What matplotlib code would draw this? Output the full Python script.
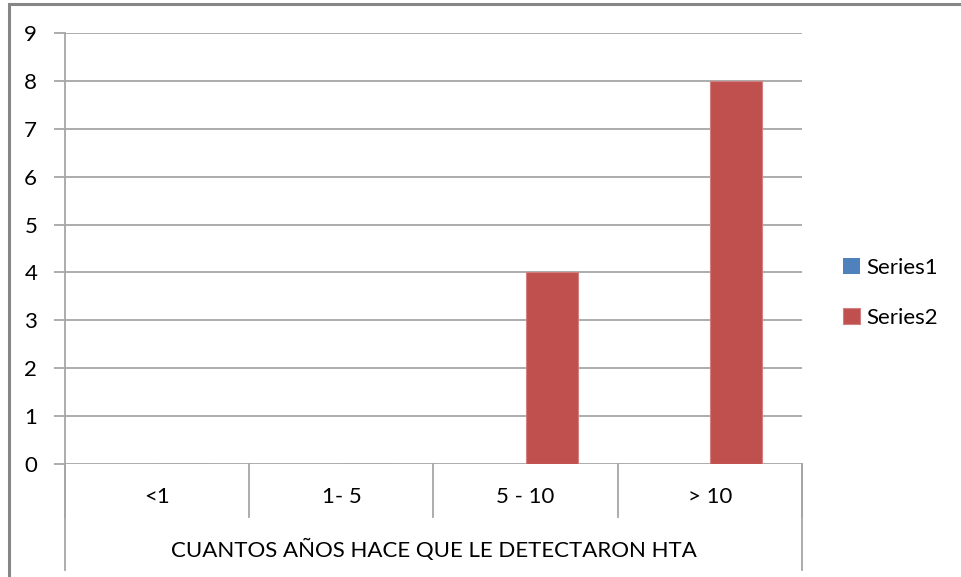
import matplotlib
matplotlib.use("Agg")
import matplotlib.pyplot as plt
from matplotlib.patches import Rectangle
import numpy as np

categories = ["<1", "1- 5", "5 - 10", "> 10"]
series_names = ["Series1", "Series2"]
series1 = [0, 0, 0, 0]
series2 = [0, 0, 4, 8]
y_ticks = [0, 1, 2, 3, 4, 5, 6, 7, 8, 9]
axis_title = "CUANTOS AÑOS HACE QUE LE DETECTARON HTA"

plt.rcParams['font.family'] = ['Lato', 'DejaVu Sans']

W, H = 962, 577
fig = plt.figure(figsize=(W / 100, H / 100), dpi=100)
fig.patch.set_facecolor('white')

# outer chart border (continues beyond the crop on right/bottom)
fig.patches.append(Rectangle((9 / W, -0.1), 1.2, 1 - 4 / H + 0.1, transform=fig.transFigure,
                             fill=False, edgecolor='#868686', linewidth=2.2))

L, R, T, B = 65, 802, 33, 464
ax = fig.add_axes([L / W, 1 - B / H, (R - L) / W, (B - T) / H])

x = np.arange(len(categories))
bw = 0.282
ax.bar(x - bw, series1, width=bw, align='edge', color='#4F81BD', linewidth=0, label=series_names[0], zorder=3)
ax.bar(x, series2, width=bw, align='edge', color='#C0504D', edgecolor='#D08080', linewidth=0.8,
       label=series_names[1], zorder=3)

ax.set_xlim(-0.5, len(categories) - 0.5)
ax.set_ylim(0, 9)
ax.set_yticks(y_ticks)
ax.set_yticklabels([str(v) for v in y_ticks], fontsize=16, color='#000000')
ax.yaxis.grid(True, color='#A6A6A6', linewidth=1.3, zorder=0)
ax.set_axisbelow(True)
ax.tick_params(axis='y', length=8, width=1.3, color='#A6A6A6', pad=12)
ax.set_xticks([])
for s in ['top', 'right', 'bottom']:
    ax.spines[s].set_visible(False)
ax.spines['left'].set_color('#A6A6A6')
ax.spines['left'].set_linewidth(1.3)

ycat = -(517 - B) / (B - T)
yend = -(570 - B) / (B - T)
tr = ax.get_xaxis_transform()
# category dividers
for d in np.arange(-0.5, len(categories), 1.0):
    ax.plot([d, d], [0, ycat], transform=tr, color='#A6A6A6', lw=1.3, clip_on=False)
ax.plot([-0.5, -0.5], [0, yend], transform=tr, color='#A6A6A6', lw=1.3, clip_on=False)
ax.plot([len(categories) - 0.5] * 2, [0, yend], transform=tr, color='#A6A6A6', lw=1.3, clip_on=False)

for i, c in enumerate(categories):
    ax.text(i, -(497 - B) / (B - T), c, transform=tr, ha='center', va='center', fontsize=16)
ax.text((len(categories) - 1) / 2, -(550 - B) / (B - T), axis_title, transform=tr,
        ha='center', va='center', fontsize=16)

leg = fig.legend(loc='center left', bbox_to_anchor=(823 / W, 1 - 293 / H), frameon=False,
                 fontsize=16, handlelength=0.75, handleheight=0.75, handletextpad=0.3,
                 labelspacing=1.35)

fig.savefig("out.png", dpi=100, facecolor='white')
